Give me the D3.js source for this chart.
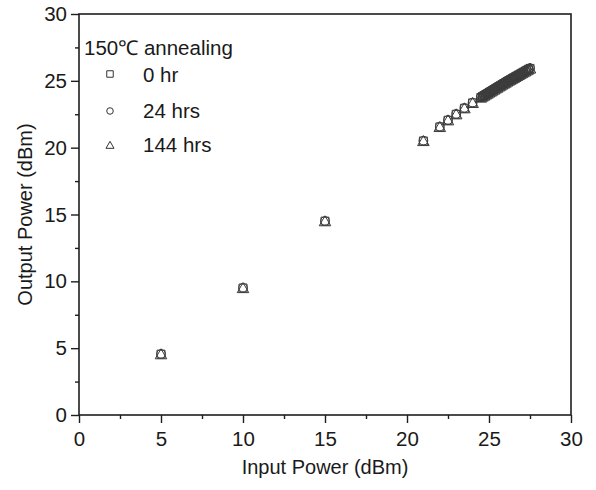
<!DOCTYPE html>
<html>
<head>
<meta charset="utf-8">
<script src="https://cdn.jsdelivr.net/npm/d3@7"></script>
<style>
  html, body { margin: 0; padding: 0; background: #fff; }
  svg { display: block; }
  text { font-family: "Liberation Sans", Arial, Helvetica, sans-serif; fill: #1a1a1a; }
</style>
</head>
<body>
<svg id="chart" width="596" height="490"></svg>
<script>
// ---- data ----
const inputPower = [5, 10, 15, 21, 22, 22.5, 23, 23.5, 24,
  24.5, 24.6, 24.7, 24.8, 24.9, 25.0, 25.1, 25.2, 25.3, 25.4,
  25.5, 25.6, 25.7, 25.8, 25.9, 26.0, 26.1, 26.2, 26.3, 26.4,
  26.5, 26.6, 26.7, 26.8, 26.9, 27.0, 27.1, 27.2, 27.3, 27.4, 27.5];
const out0hr = [4.55, 9.5, 14.5, 20.5, 21.55, 22.05, 22.5, 22.95, 23.35,
  23.75, 23.83, 23.9, 23.98, 24.05, 24.13, 24.2, 24.28, 24.35, 24.43,
  24.5, 24.58, 24.65, 24.73, 24.8, 24.87, 24.95, 25.02, 25.09, 25.16,
  25.23, 25.3, 25.37, 25.44, 25.51, 25.58, 25.65, 25.72, 25.79, 25.86, 25.93];
const out24hrs = [4.57, 9.52, 14.52, 20.52, 21.57, 22.07, 22.52, 22.97, 23.37,
  23.77, 23.85, 23.92, 24.0, 24.07, 24.15, 24.22, 24.3, 24.37, 24.45,
  24.52, 24.6, 24.67, 24.75, 24.82, 24.89, 24.97, 25.04, 25.11, 25.18,
  25.25, 25.32, 25.39, 25.46, 25.53, 25.6, 25.67, 25.74, 25.81, 25.88, 25.95];
const out144hrs = [4.53, 9.48, 14.48, 20.48, 21.53, 22.03, 22.48, 22.93, 23.33,
  23.73, 23.81, 23.88, 23.96, 24.03, 24.11, 24.18, 24.26, 24.33, 24.41,
  24.48, 24.56, 24.63, 24.71, 24.78, 24.85, 24.93, 25.0, 25.07, 25.14,
  25.21, 25.28, 25.35, 25.42, 25.49, 25.56, 25.63, 25.7, 25.77, 25.84, 25.91];
const seriesNames = ["0 hr", "24 hrs", "144 hrs"];
const legendTitle = "150\u2103 annealing";
const xTicks = [0, 5, 10, 15, 20, 25, 30];
const yTicks = [0, 5, 10, 15, 20, 25, 30];
const minorTicks = [2.5, 7.5, 12.5, 17.5, 22.5, 27.5];
const xTitle = "Input Power (dBm)";
const yTitle = "Output Power (dBm)";

// ---- layout ----
const svg = d3.select("#chart");
const L = 79, R = 571, T = 14, B = 415;
const x = d3.scaleLinear().domain([0, 30]).range([L, R]);
const y = d3.scaleLinear().domain([0, 30]).range([B, T]);
const axisColor = "#1e1e1e";
const markColor = "#3c3c3c";

svg.append("rect").attr("width", 596).attr("height", 490).attr("fill", "#fff");

// frame
svg.append("rect").attr("x", L).attr("y", T).attr("width", R - L).attr("height", B - T)
  .attr("fill", "none").attr("stroke", axisColor).attr("stroke-width", 1.6);

function styleAxis(g) {
  g.select(".domain").remove();
  g.selectAll(".tick line").attr("stroke", axisColor).attr("stroke-width", 1.4);
  g.selectAll(".tick text").style("font-size", "20.5px").attr("fill", "#1a1a1a");
}

// x axis
svg.append("g").attr("transform", `translate(0,${B})`)
  .call(d3.axisBottom(x).tickValues(xTicks).tickSize(8).tickPadding(8).tickFormat(d3.format("d")))
  .call(styleAxis);
svg.append("g").attr("transform", `translate(0,${B})`)
  .call(d3.axisBottom(x).tickValues(minorTicks).tickSize(4).tickFormat(""))
  .call(styleAxis);
// y axis
svg.append("g").attr("transform", `translate(${L},0)`)
  .call(d3.axisLeft(y).tickValues(yTicks).tickSize(8).tickPadding(4).tickFormat(d3.format("d")))
  .call(styleAxis);
svg.append("g").attr("transform", `translate(${L},0)`)
  .call(d3.axisLeft(y).tickValues(minorTicks).tickSize(4).tickFormat(""))
  .call(styleAxis);

// titles
svg.append("text").attr("x", (L + R) / 2).attr("y", 474).attr("text-anchor", "middle")
  .style("font-size", "20px").text(xTitle);
svg.append("text").attr("transform", `translate(32,${(T + B) / 2}) rotate(-90)`)
  .attr("text-anchor", "middle").style("font-size", "20px").text(yTitle);

// data markers
const symTypes = [d3.symbolSquare, d3.symbolCircle, d3.symbolTriangle];
const symSizes = [64, 60, 58];
const allSeries = [out0hr, out24hrs, out144hrs];
allSeries.forEach((vals, si) => {
  const gen = d3.symbol().type(symTypes[si]).size(symSizes[si]);
  svg.append("g").selectAll("path").data(inputPower.map((xv, i) => [xv, vals[i]]))
    .join("path")
    .attr("d", gen)
    .attr("transform", d => `translate(${x(d[0])},${y(d[1]) + (si === 2 ? 1 : 0)})`)
    .attr("fill", "none").attr("stroke", markColor).attr("stroke-width", 1);
});

// legend
svg.append("text").attr("x", 84).attr("y", 55).style("font-size", "20.5px").text(legendTitle);
const legSizes = [42, 34, 28];
const legY = [74, 111, 146];
const legBase = [82, 118, 152];
seriesNames.forEach((name, si) => {
  svg.append("path")
    .attr("d", d3.symbol().type(symTypes[si]).size(legSizes[si]))
    .attr("transform", `translate(110,${legY[si]})`)
    .attr("fill", "none").attr("stroke", "#333").attr("stroke-width", 1);
  svg.append("text").attr("x", 143).attr("y", legBase[si]).style("font-size", "20.5px").text(name);
});
</script>
</body>
</html>
